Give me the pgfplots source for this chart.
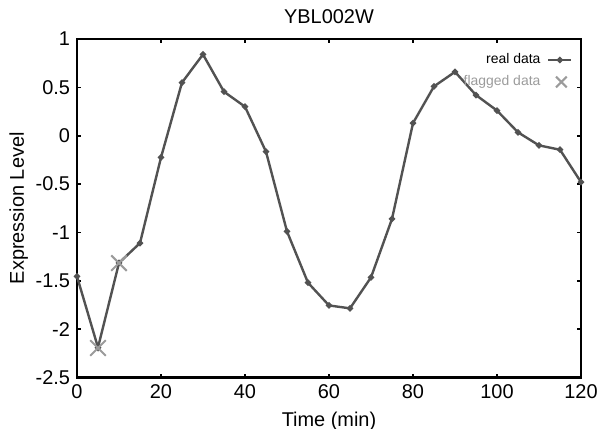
\documentclass[border=0pt]{standalone}
\usepackage{fontspec}
\setmainfont{Liberation Sans}
\usepackage{pgfplots}
\pgfplotsset{compat=1.18}
\usetikzlibrary{calc}

\definecolor{realc}{RGB}{82,82,82}
\definecolor{flagc}{RGB}{155,155,155}
\pgfplotsset{
  reallegend/.style={legend image code/.code={\path[draw=none,fill=none] (-2bp,-1bp) rectangle (11.5bp,1bp);
    \draw[mark repeat=2,mark phase=2,##1]
    plot coordinates {(0bp,0bp) (5.75bp,0bp) (11.5bp,0bp)};}},
  flaglegend/.style={legend image code/.code={\path[draw=none,fill=none] (-2bp,-1bp) rectangle (11.5bp,1bp);
    \draw[##1, mark size=3.8bp] plot coordinates {(6.5bp,0bp)};}},
}

\begin{document}
\begin{tikzpicture}
\begin{axis}[
  name=ax,
  scale only axis,
  width=252bp, height=169.25bp,
  xmin=0, xmax=120, ymin=-2.5, ymax=1,
  xtick={0,20,...,120},
  ytick={-2.5,-2,...,1},
  yticklabels={-2.5,-2,-1.5,-1,-0.5,0,0.5,1},
  tick align=inside,
  major tick length=2bp,
  tick style={black, line width=0.8bp},
  axis line style={line width=1.1bp},
  /pgf/number format/assume math mode=true,
  tick label style={font=\fontsize{10}{12}\selectfont},
  label style={font=\fontsize{10}{12}\selectfont},
  ylabel style={yshift=-3bp},
  title style={font=\fontsize{10}{12}\selectfont, yshift=-2bp},
  title={YBL002W},
  xlabel={Time (min)},
  ylabel={Expression Level},
  legend cell align=right,
  legend plot pos=right,
  legend style={at={(rel axis cs:1,1)}, anchor=north east,
    xshift=-4bp, yshift=-5bp, draw=none, fill=none,
    font=\fontsize{7}{8}\selectfont, row sep=0.5bp, column sep=0bp,
    inner sep=0pt},
]
\addplot[color=realc, line width=1.2bp, mark=*, mark size=0.9bp, reallegend]
  coordinates {
  (0,-1.455) (5,-2.19) (10,-1.315) (15,-1.11) (20,-0.225) (25,0.55)
  (30,0.84) (35,0.455) (40,0.30) (45,-0.165) (50,-0.99) (55,-1.52)
  (60,-1.755) (65,-1.785) (70,-1.465) (75,-0.86) (80,0.13) (85,0.51)
  (90,0.66) (95,0.42) (100,0.26) (105,0.035) (110,-0.10) (115,-0.145)
  (120,-0.48)};
\addlegendentry{real data}
\addplot[only marks, color=flagc, mark=x, mark size=5.5bp, line width=1bp, flaglegend]
  coordinates {(5,-2.195) (10,-1.317)};
\addlegendentry{\textcolor{flagc}{flagged data}}
\end{axis}
\pgfresetboundingbox
\path ($(ax.south west)+(-38.5bp,-25.75bp)$) rectangle ($(ax.north east)+(9.5bp,19.5bp)$);
\end{tikzpicture}
\end{document}
